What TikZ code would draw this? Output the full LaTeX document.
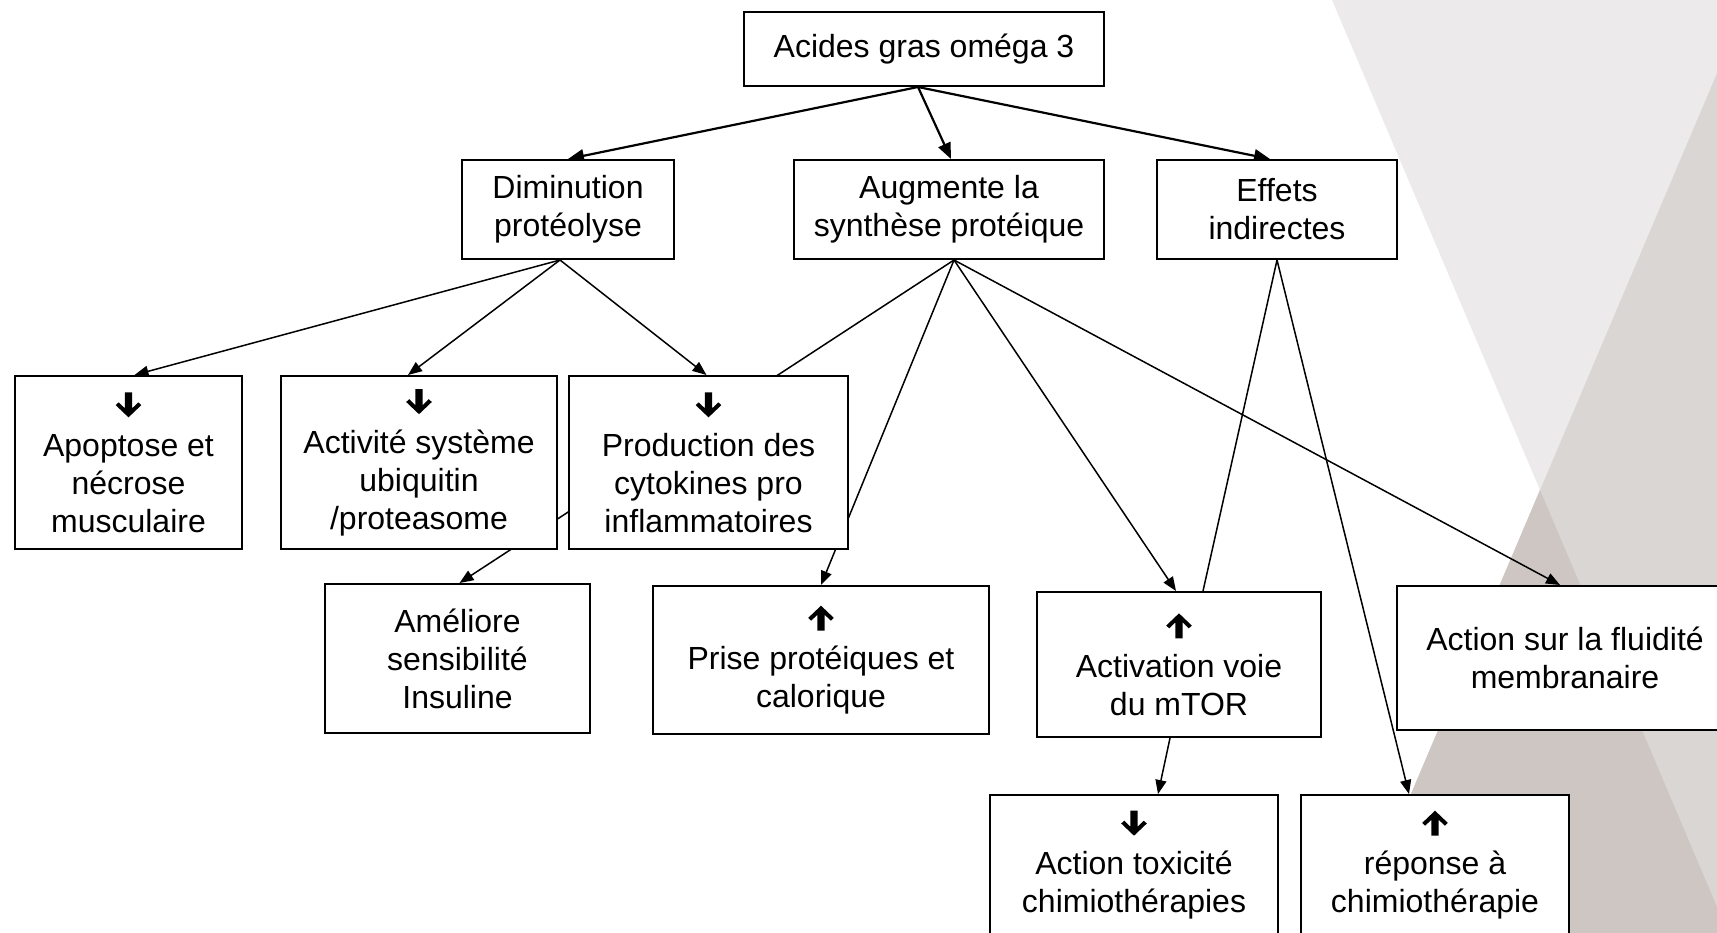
\documentclass[tikz,border=0pt]{standalone}
\usepackage{fontspec}
\setmainfont{Liberation Sans}
\usetikzlibrary{arrows.meta}

\pgfdeclarelayer{backdrop}
\pgfdeclarelayer{links}
\pgfsetlayers{backdrop,links,main}

\definecolor{facetA}{HTML}{ECEAEA}
\definecolor{facetB}{HTML}{DAD6D4}
\definecolor{facetC}{HTML}{CDC6C3}

% heavy arrows marking a decrease / an increase
\newcommand{\downmark}{\tikz[baseline=0pt,x=1pt,y=1pt]\fill[black] (0,0) -- (6.4,6.1) -- (4.9,7.5) -- (1.8,4.5) -- (1.8,12.5) -- (-1.8,12.5) -- (-1.8,4.5) -- (-4.9,7.5) -- (-6.4,6.1) -- cycle;}
\newcommand{\upmark}{\tikz[baseline=0pt,x=1pt,y=1pt]\fill[black] (0,12.5) -- (6.4,6.4) -- (4.9,5) -- (1.8,8) -- (1.8,0) -- (-1.8,0) -- (-1.8,8) -- (-4.9,5) -- (-6.4,6.4) -- cycle;}

\begin{document}
\begin{tikzpicture}[x=0.5pt, y=-0.5pt,
  chartbox/.style={draw=black, line width=1pt, fill=white, inner sep=0pt,
    align=center, font=\fontsize{16}{19}\selectfont},
  link/.style={line width=0.75pt, -{Triangle[length=7pt,width=5.5pt]}},
  plainlink/.style={line width=0.75pt},
  toplink/.style={line width=1.1pt, -{Triangle[length=8pt,width=6.5pt]}}]

\useasboundingbox (0,0) rectangle (1717,932);

% facets of the backdrop
\begin{pgfonlayer}{backdrop}
  \fill[facetA] (1332,0) -- (1748,0) -- (1540,490) -- cycle;
  \fill[facetB] (1748,0) -- (1760,0) -- (1760,940) -- (1349,940) -- cycle;
  \fill[facetC] (1540,490) -- (1349,940) -- (1731,940) -- cycle;
\end{pgfonlayer}

% boxes
\node[chartbox, minimum width=180pt, minimum height=37pt] (top) at (924,49) {Acides gras oméga 3};

\node[chartbox, minimum width=106pt, minimum height=49.5pt] (dim) at (568,209.5) {Diminution\\protéolyse};
\node[chartbox, minimum width=155pt, minimum height=49.5pt] (aug) at (949,209.5) {Augmente la\\synthèse protéique};
\node[chartbox, minimum width=120pt, minimum height=49.5pt] (eff) at (1277,209.5) {Effets\\indirectes};

\node[chartbox, minimum width=113.5pt, minimum height=86.5pt] (apo) at (128.5,462.5) {\downmark\\[0.5pt]Apoptose et\\nécrose\\musculaire};
\node[chartbox, minimum width=138pt, minimum height=86.5pt] (act) at (419,462.5) {\downmark\\[0.5pt]Activité système\\ubiquitin\\/proteasome};
\node[chartbox, minimum width=139.5pt, minimum height=86.5pt] (prod) at (708.5,462.5) {\downmark\\[0.5pt]Production des\\cytokines pro\\inflammatoires};

\node[chartbox, minimum width=132.5pt, minimum height=74.5pt] (ame) at (457.5,658.5) {Améliore\\sensibilité\\Insuline};
\node[chartbox, minimum width=168pt, minimum height=74pt] (prise) at (821,660) {\upmark\\[0.5pt]Prise protéiques et\\calorique};
\node[chartbox, minimum width=142pt, minimum height=72.5pt] (mtor) at (1179,664.5) {\upmark\\[0.5pt]Activation voie\\du mTOR};
\node[chartbox, minimum width=168pt, minimum height=72pt] (flu) at (1565,658) {Action sur la fluidité\\membranaire};

\node[chartbox, minimum width=144pt, minimum height=70pt] (tox) at (1134,865) {\downmark\\[0.5pt]Action toxicité\\chimiothérapies};
\node[chartbox, minimum width=134pt, minimum height=70pt] (rep) at (1435,865) {\upmark\\[0.5pt]réponse à\\chimiothérapie};

% connectors, kept under the boxes
\begin{pgfonlayer}{links}
  \draw[toplink] ([xshift=-3pt]top.south) -- (dim.north);
  \draw[toplink] ([xshift=-3pt]top.south) -- ([xshift=1pt]aug.north);
  \draw[toplink] ([xshift=-3pt]top.south) -- ([xshift=-3.5pt]eff.north);

  \draw[link] ([xshift=-4pt]dim.south) -- ([xshift=3pt]apo.north);
  \draw[link] ([xshift=-4pt]dim.south) -- ([xshift=-5.5pt]act.north);
  \draw[link] ([xshift=-4pt]dim.south) -- ([xshift=-1pt]prod.north);

  \draw[link] ([xshift=2.5pt]aug.south) -- ([xshift=1pt]ame.north);
  \draw[link] ([xshift=2.5pt]aug.south) -- (prise.north);
  \draw[link] ([xshift=2.5pt]aug.south) -- ([xshift=-1.5pt]mtor.north);
  \draw[link] ([xshift=2.5pt]aug.south) -- ([xshift=-2.5pt]flu.north);

  \draw[plainlink] (eff.south) -- ([xshift=12pt]mtor.north);
  \draw[link] (eff.south) -- ([xshift=-13pt]rep.north);

  \draw[link] ([xshift=-4.5pt]mtor.south) -- ([xshift=12pt]tox.north);
\end{pgfonlayer}
\end{tikzpicture}
\end{document}
